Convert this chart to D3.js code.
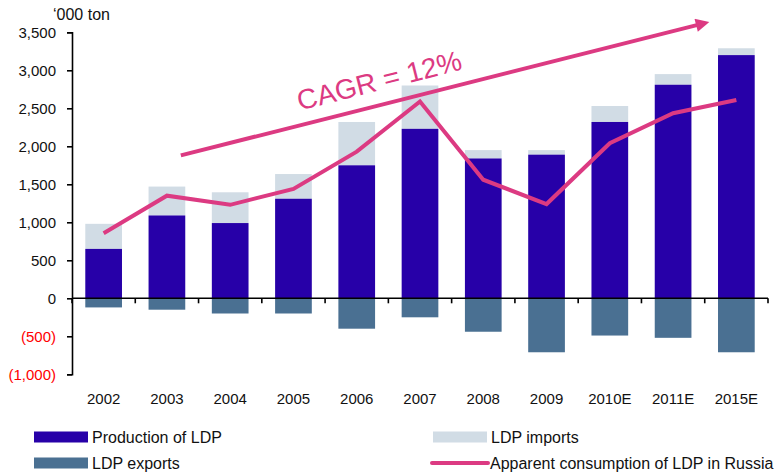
<!DOCTYPE html>
<html>
<head>
<meta charset="utf-8">
<script src="https://cdn.jsdelivr.net/npm/d3@7"></script>
<style>
  body { margin: 0; background: #fff; }
  svg { font-family: "Liberation Sans", Arial, sans-serif; }
  .axis path, .axis line { stroke: #000; stroke-width: 1.6px; }
  .axis text { font-size: 15px; }
</style>
</head>
<body>
<div id="chart"></div>
<script>
var years = ["2002", "2003", "2004", "2005", "2006", "2007", "2008", "2009", "2010E", "2011E", "2015E"];
var production = [650, 1090, 990, 1310, 1750, 2230, 1840, 1890, 2320, 2810, 3200];
var imports = [330, 380, 405, 325, 570, 570, 110, 60, 210, 140, 90];
var exports = [-120, -150, -200, -200, -400, -250, -440, -710, -490, -520, -710];
var consumption = [855, 1350, 1230, 1440, 1930, 2590, 1560, 1240, 2040, 2435, 2610];
var yTicks = [-1000, -500, 0, 500, 1000, 1500, 2000, 2500, 3000, 3500];

// trend arrow, in category index (centre = i) / data units
var cagrFrom = { i: 1.22, v: 1880 };
var cagrTo = { i: 9.59, v: 3640 };
var cagrLabel = "CAGR = 12%";

var width = 784;
var height = 474;
var margin = { top: 32.3, right: 16, bottom: 99.7, left: 72 };

var colors = {
  production: "#2700A8",
  imports: "#D1DCE5",
  exports: "#4A7092",
  line: "#DC3A82"
};

var x = d3.scaleBand()
  .domain(years)
  .range([margin.left, width - margin.right])
  .paddingInner(0.42)
  .paddingOuter(0.21);

var xi = d3.scaleLinear()
  .domain([0, years.length])
  .range([margin.left, width - margin.right]);

var y = d3.scaleLinear()
  .domain([-1000, 3500])
  .range([height - margin.bottom, margin.top]);

var svg = d3.select("#chart").append("svg")
  .attr("width", width)
  .attr("height", height);

var rows = years.map(function(d, i) {
  return { year: d, prod: production[i], imp: imports[i], exp: exports[i], cons: consumption[i] };
});

// bars
svg.append("g").selectAll("rect")
  .data(rows)
  .enter().append("rect")
  .attr("x", function(d) { return x(d.year); })
  .attr("width", x.bandwidth())
  .attr("y", function(d) { return y(d.prod + d.imp); })
  .attr("height", function(d) { return y(d.prod) - y(d.prod + d.imp); })
  .attr("fill", colors.imports);

svg.append("g").selectAll("rect")
  .data(rows)
  .enter().append("rect")
  .attr("x", function(d) { return x(d.year); })
  .attr("width", x.bandwidth())
  .attr("y", function(d) { return y(d.prod); })
  .attr("height", function(d) { return y(0) - y(d.prod); })
  .attr("fill", colors.production);

svg.append("g").selectAll("rect")
  .data(rows)
  .enter().append("rect")
  .attr("x", function(d) { return x(d.year); })
  .attr("width", x.bandwidth())
  .attr("y", y(0))
  .attr("height", function(d) { return y(d.exp) - y(0); })
  .attr("fill", colors.exports);

// y axis
var yAxis = svg.append("g")
  .attr("class", "axis")
  .attr("transform", "translate(" + margin.left + ",0)")
  .call(d3.axisLeft(y)
    .tickValues(yTicks)
    .tickSize(5)
    .tickPadding(11)
    .tickFormat(function(d) {
      var s = d3.format(",")(Math.abs(d));
      return d < 0 ? "(" + s + ")" : s;
    }));
yAxis.selectAll("text")
  .style("fill", function(d) { return d < 0 ? "#FF0000" : "#111"; });

// x axis at zero
var xAxis = svg.append("g")
  .attr("class", "axis")
  .attr("transform", "translate(0," + y(0) + ")")
  .call(d3.axisBottom(x).tickSize(0).tickPadding(0));
xAxis.select(".domain").attr("d", "M" + margin.left + ",0H" + (width - margin.right));
xAxis.selectAll(".tick text")
  .attr("y", y(-1000) - y(0) + 30)
  .attr("dy", 0)
  .style("fill", "#111");
xAxis.selectAll(".bound")
  .data(d3.range(years.length + 1))
  .enter().append("line")
  .attr("x1", function(d) { return xi(d); })
  .attr("x2", function(d) { return xi(d); })
  .attr("y1", 0)
  .attr("y2", 5)
  .attr("stroke", "#000")
  .attr("stroke-width", 1.6);

svg.append("text")
  .attr("x", 53)
  .attr("y", 20)
  .attr("font-size", 16)
  .attr("fill", "#111")
  .text("\u2018000 ton");

// consumption line
var line = d3.line()
  .x(function(d) { return x(d.year) + x.bandwidth() / 2; })
  .y(function(d) { return y(d.cons); });

svg.append("path")
  .datum(rows)
  .attr("d", line)
  .attr("fill", "none")
  .attr("stroke", colors.line)
  .attr("stroke-width", 4)
  .attr("stroke-linejoin", "miter");

// CAGR arrow
svg.append("defs").append("marker")
  .attr("id", "head")
  .attr("viewBox", "0 0 10 10")
  .attr("refX", 2)
  .attr("refY", 5)
  .attr("markerWidth", 4)
  .attr("markerHeight", 3.4)
  .attr("orient", "auto")
  .attr("markerUnits", "strokeWidth")
  .append("path")
  .attr("d", "M0,0L10,5L0,10z")
  .attr("fill", colors.line);

var ax1 = xi(cagrFrom.i + 0.5), ay1 = y(cagrFrom.v);
var ax2 = xi(cagrTo.i + 0.5), ay2 = y(cagrTo.v);
var ang = Math.atan2(ay2 - ay1, ax2 - ax1);
var headLen = 12;

svg.append("line")
  .attr("x1", ax1)
  .attr("y1", ay1)
  .attr("x2", ax2 - headLen * Math.cos(ang))
  .attr("y2", ay2 - headLen * Math.sin(ang))
  .attr("stroke", colors.line)
  .attr("stroke-width", 4)
  .attr("marker-end", "url(#head)");

var tx = xi(3.6), ty = y(2470);
svg.append("text")
  .attr("transform", "translate(" + tx + "," + ty + ") rotate(" + (ang * 180 / Math.PI) + ")")
  .attr("font-size", 28)
  .attr("fill", colors.line)
  .text(cagrLabel);

// legend
var legend = [
  { label: "Production of LDP", color: colors.production, type: "rect", x: 34, y: 437 },
  { label: "LDP imports", color: colors.imports, type: "rect", x: 433, y: 437 },
  { label: "LDP exports", color: colors.exports, type: "rect", x: 34, y: 463 },
  { label: "Apparent consumption of LDP in Russia", color: colors.line, type: "line", x: 432, y: 463 }
];

var lg = svg.append("g").selectAll("g")
  .data(legend)
  .enter().append("g")
  .attr("transform", function(d) { return "translate(" + d.x + "," + d.y + ")"; });

lg.filter(function(d) { return d.type === "rect"; })
  .append("rect")
  .attr("x", 0)
  .attr("y", -5.5)
  .attr("width", 54)
  .attr("height", 11)
  .attr("fill", function(d) { return d.color; });

lg.filter(function(d) { return d.type === "line"; })
  .append("line")
  .attr("x1", 0)
  .attr("x2", 56)
  .attr("y1", 0)
  .attr("y2", 0)
  .attr("stroke", function(d) { return d.color; })
  .attr("stroke-width", 4)
  .attr("stroke-linecap", "round");

lg.append("text")
  .attr("x", 58)
  .attr("dy", "0.35em")
  .attr("font-size", 16)
  .attr("fill", "#111")
  .text(function(d) { return d.label; });
</script>
</body>
</html>
